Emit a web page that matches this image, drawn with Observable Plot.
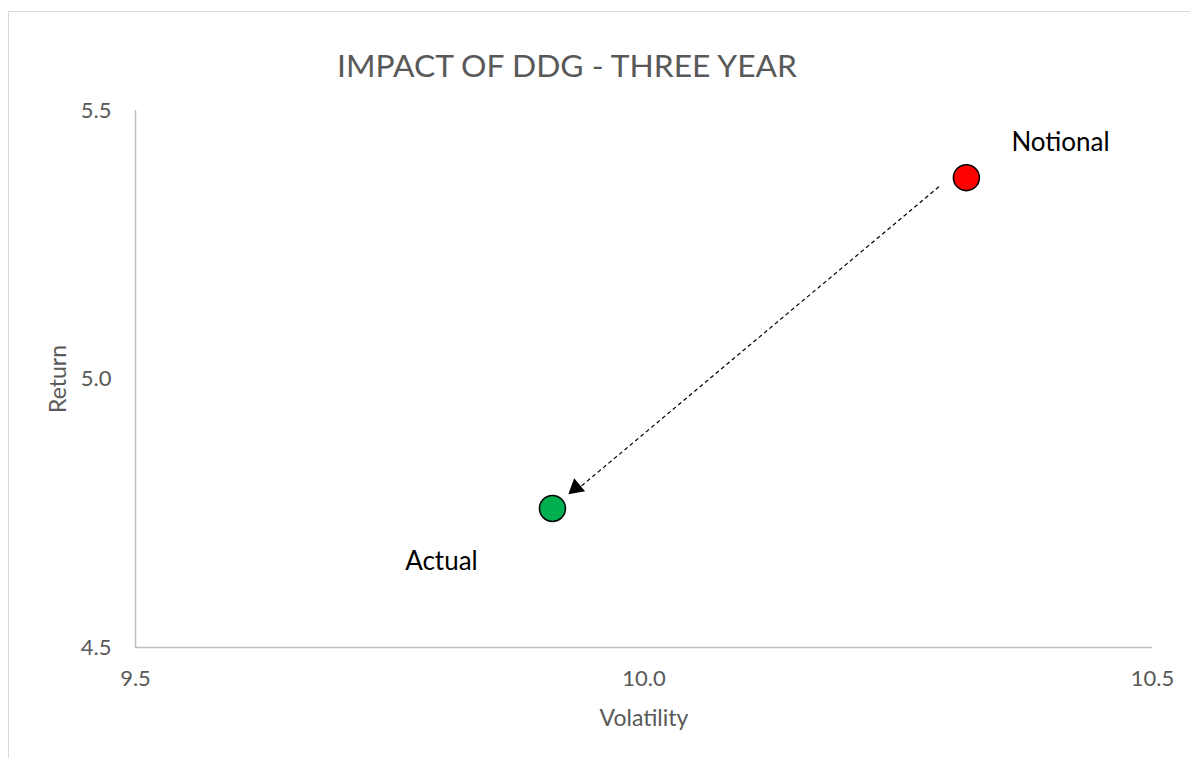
<!DOCTYPE html>
<html>
<head>
<meta charset="utf-8">
<script src="https://cdn.jsdelivr.net/npm/d3@7"></script>
<script src="https://cdn.jsdelivr.net/npm/@observablehq/plot@0.6"></script>
<style>
  html, body { margin: 0; padding: 0; background: #fff; }
  #wrap { position: relative; width: 1190px; height: 758px; overflow: hidden; font-family: Lato, "Open Sans", sans-serif; }
  #border { position: absolute; left: 8px; top: 11px; width: 1300px; height: 900px; border: 1px solid #d9d9d9; box-sizing: border-box; }
  #title { position: absolute; left: 0; width: 1134px; top: 47px; line-height: 36px; text-align: center; font-size: 31.8px; color: #595959; }
  #chart { position: absolute; left: 0; top: 0; }
</style>
</head>
<body>
<div id="wrap">
  <div id="border"></div>
  <div id="chart"></div>
  <div id="title">IMPACT OF DDG - THREE YEAR</div>
</div>
<script>
const names = ["Notional", "Actual"];
const volatility = [10.317, 9.910];
const returns = [5.375, 4.759];
const colors = ["#ff0000", "#00b050"];
const xTicks = [9.5, 10.0, 10.5];
const yTicks = [4.5, 5.0, 5.5];
const xLabel = "Volatility";
const yLabel = "Return";
// dashed arrow from Notional toward Actual
const arrowLine = [{x1: 10.290, y1: 5.358, x2: 9.938, y2: 4.800}];
const arrowHead = [{x: 9.933, y: 4.797}];

const points = names.map((n, i) => ({name: n, x: volatility[i], y: returns[i], color: colors[i]}));
const fmt = d3.format(".1f");
const font = "Lato, 'Open Sans', sans-serif";

const chart = Plot.plot({
  width: 1190,
  height: 758,
  marginLeft: 135,
  marginRight: 38,
  marginTop: 110,
  marginBottom: 111,
  style: {fontFamily: font, fontSize: "22px", color: "#595959", background: "transparent"},
  x: {domain: [9.5, 10.5]},
  y: {domain: [4.5, 5.5]},
  marks: [
    Plot.ruleX([9.5], {stroke: "#bfbfbf", strokeWidth: 1.5}),
    Plot.ruleY([4.5], {stroke: "#bfbfbf", strokeWidth: 1.5}),
    Plot.axisX({ticks: xTicks, tickFormat: fmt, tickSize: 0, tickPadding: 23, fontSize: 22, fill: "#595959", label: null}),
    Plot.axisY({ticks: yTicks, tickFormat: fmt, tickSize: 0, tickPadding: 24, fontSize: 22, fill: "#595959", label: null}),
    Plot.text([xLabel], {text: d => d, frameAnchor: "bottom", textAnchor: "middle", lineAnchor: "middle", dy: 71, fontSize: 23, fill: "#595959"}),
    Plot.text([yLabel], {text: d => d, frameAnchor: "left", textAnchor: "middle", lineAnchor: "middle", rotate: -90, dx: -77, fontSize: 23, fill: "#595959"}),
    Plot.link(arrowLine, {x1: "x1", y1: "y1", x2: "x2", y2: "y2", stroke: "black", strokeWidth: 1.2, strokeDasharray: "4,3"}),
    Plot.dot(arrowHead, {x: "x", y: "y", symbol: "triangle", r: 6.3, rotate: 230, fill: "black", stroke: "none"}),
    Plot.dot(points, {x: "x", y: "y", r: 13, fill: "color", stroke: "black", strokeWidth: 1.5}),
    Plot.text(points.filter(d => d.name === "Notional"), {x: "x", y: "y", text: "name", dx: 45, dy: -35, textAnchor: "start", fontSize: 26, fill: "black"}),
    Plot.text(points.filter(d => d.name === "Actual"), {x: "x", y: "y", text: "name", dx: -111, dy: 53, textAnchor: "middle", fontSize: 26, fill: "black"})
  ]
});
document.getElementById("chart").appendChild(chart);
</script>
</body>
</html>
